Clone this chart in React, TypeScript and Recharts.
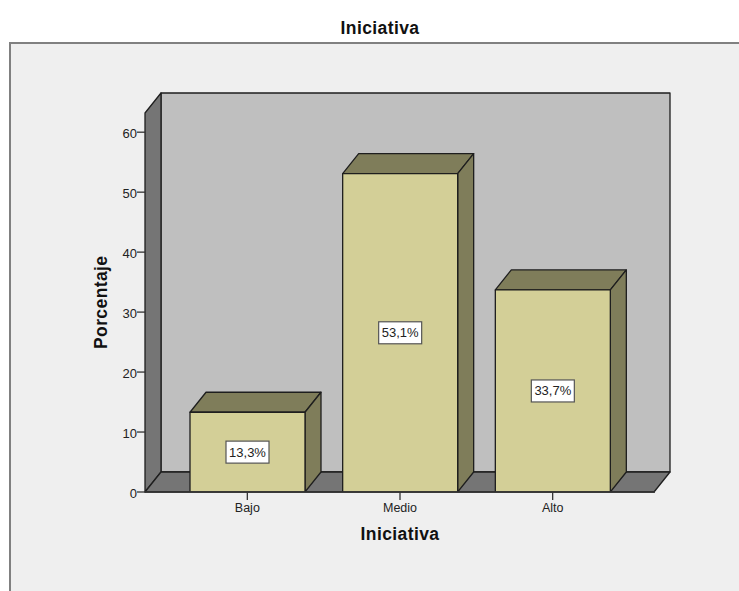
import React from "react"
import { Bar, BarChart, LabelList, ReferenceArea, XAxis, YAxis } from "recharts"

const categories = ["Bajo", "Medio", "Alto"]
const porcentaje = [13.3, 53.1, 33.7]
const etiquetas = ["13,3%", "53,1%", "33,7%"]
const yTicks = [0, 10, 20, 30, 40, 50, 60]

const data = categories.map((name, i) => ({ name, value: porcentaje[i], label: etiquetas[i] }))

// profundidad del efecto 3D
const DX = 16
const DY = 20
const PAD = 26
const FONT = "Liberation Sans, Arial, sans-serif"

function Walls(props: any) {
  const { y, height } = props
  // ReferenceArea arranca donde termina el padding del eje, se compensa aqui
  const x = props.x - PAD
  const r = props.x + props.width + PAD - 1
  const b = y + height
  return (
    <g stroke="#1e1e1e" strokeWidth={1.3} strokeLinejoin="round">
      <polygon points={`${x + DX},${y - DY} ${r + DX},${y - DY} ${r + DX},${b - DY} ${x + DX},${b - DY}`} fill="#bfbfbf" />
      <polygon points={`${x},${y} ${x + DX},${y - DY} ${x + DX},${b - DY} ${x},${b}`} fill="#757575" />
      <polygon points={`${x},${b} ${x + DX},${b - DY} ${r + DX},${b - DY} ${r},${b}`} fill="#757575" />
    </g>
  )
}

function Bar3D(props: any) {
  const { x, y, width, height } = props
  const r = x + width
  const b = y + height
  return (
    <g stroke="#1e1e1e" strokeWidth={1.3} strokeLinejoin="round">
      <polygon points={`${x},${y} ${x + DX},${y - DY} ${r + DX},${y - DY} ${r},${y}`} fill="#7f7d5a" />
      <polygon points={`${r},${y} ${r + DX},${y - DY} ${r + DX},${b - DY} ${r},${b}`} fill="#7f7d5a" />
      <rect x={x} y={y} width={width} height={height} fill="#d3cf97" />
    </g>
  )
}

function BoxLabel(props: any) {
  const { x, y, width, height, value } = props
  const cx = x + width / 2
  const cy = y + height / 2
  return (
    <g>
      <rect x={cx - 21.5} y={cy - 11} width={43} height={22} fill="#fff" stroke="#555" strokeWidth={1.2} />
      <text x={cx} y={cy + 4.5} textAnchor="middle" fontSize={13} fontFamily={FONT} fill="#222">
        {value}
      </text>
    </g>
  )
}

export default function App() {
  return (
    <div style={{ position: "fixed", left: 0, top: 0, width: 739, height: 591, background: "#fff", overflow: "hidden" }}>
      <div
        style={{
          position: "absolute", left: 0, top: 18, width: 760, textAlign: "center",
          fontFamily: FONT, fontWeight: 700, fontSize: 17.5, letterSpacing: 0.4, color: "#111",
        }}
      >
        Iniciativa
      </div>
      <div
        style={{
          position: "absolute", left: 9, top: 42, width: 730, height: 549, boxSizing: "border-box",
          background: "#efefef", borderLeft: "2px solid #808080", borderTop: "2px solid #808080",
        }}
      />
      <div style={{ position: "absolute", left: 0, top: 0 }}>
        <BarChart
          width={739}
          height={591}
          data={data}
          barSize={115}
          margin={{ top: 113, right: 84, bottom: 0, left: 85 }}
        >
          <XAxis
            dataKey="name"
            padding={{ left: PAD, right: PAD }}
            tick={{ fontSize: 12.5, fontFamily: FONT, fill: "#222" }}
            tickLine={{ stroke: "#333", strokeWidth: 1.3 }}
            tickSize={8}
            tickMargin={3}
            axisLine={{ stroke: "#333", strokeWidth: 1.3 }}
            height={99}
            label={{ value: "Iniciativa", position: "insideTop", offset: 36, fontSize: 17.5, fontWeight: 700, letterSpacing: 0.4, fontFamily: FONT, fill: "#111" }}
          />
          <YAxis
            domain={[0, 63.2]}
            ticks={yTicks}
            allowDataOverflow
            tick={{ fontSize: 13, fontFamily: FONT, fill: "#222", dy: 1 }}
            tickLine={{ stroke: "#333", strokeWidth: 1.3 }}
            tickSize={8}
            tickMargin={0}
            axisLine={false}
            width={60}
            label={{ value: "Porcentaje", angle: -90, position: "insideLeft", offset: 16, dy: 46.5, fontSize: 17.5, fontWeight: 700, letterSpacing: 0.4, fontFamily: FONT, fill: "#111" }}
          />
          <ReferenceArea y1={0} y2={63.2} shape={Walls} ifOverflow="visible" />
          <Bar dataKey="value" isAnimationActive={false} shape={Bar3D}>
            <LabelList dataKey="label" content={BoxLabel} />
          </Bar>
        </BarChart>
      </div>
    </div>
  )
}
